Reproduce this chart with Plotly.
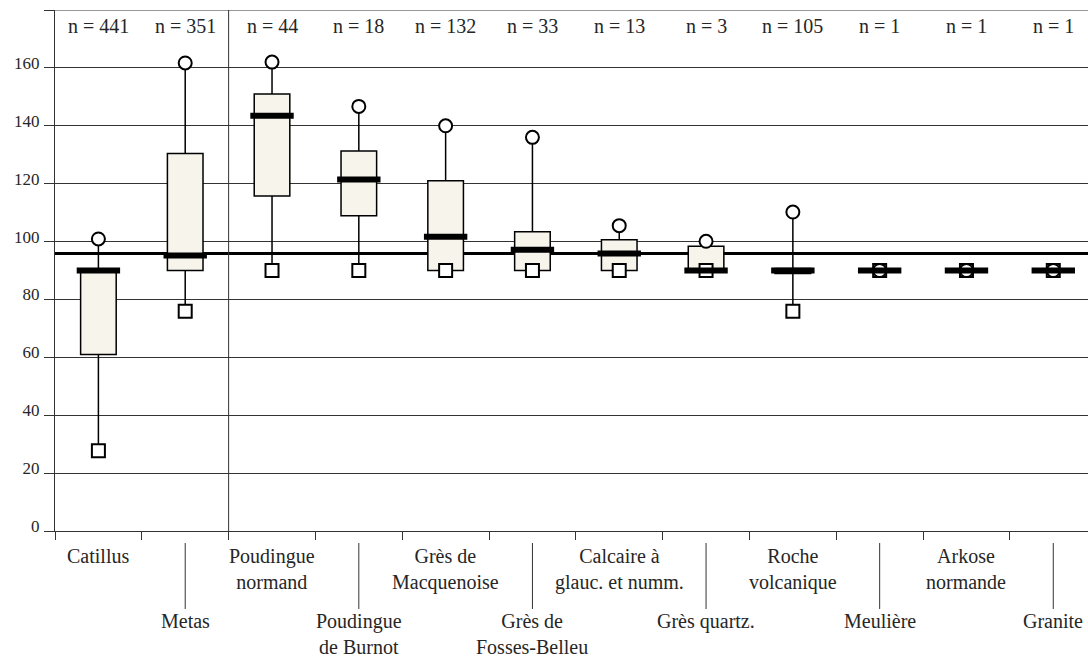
import plotly.graph_objects as go

# ---- data ----
categories = ["Catillus", "Metas", "Poudingue normand", "Poudingue de Burnot",
              "Grès de Macquenoise", "Grès de Fosses-Belleu",
              "Calcaire à glauc. et numm.", "Grès quartz.", "Roche volcanique",
              "Meulière", "Arkose normande", "Granite"]
label_text = ["Catillus", "Metas", "Poudingue<br>normand", "Poudingue<br>de Burnot",
              "Grès de<br>Macquenoise", "Grès de<br>Fosses-Belleu",
              "Calcaire à<br>glauc. et numm.", "Grès quartz.", "Roche<br>volcanique",
              "Meulière", "Arkose<br>normande", "Granite"]
n_counts = [441, 351, 44, 18, 132, 33, 13, 3, 105, 1, 1, 1]
mins    = [27.7, 75.9, 90, 90, 90, 90, 90, 90, 75.9, 90, 90, 90]
q1s     = [61.0, 90, 115.7, 108.9, 90, 90, 90, 90, 89.0, 90, 90, 90]
medians = [90, 95.2, 143.5, 121.4, 101.7, 97.2, 95.9, 90, 90, 90, 90, 90]
q3s     = [90, 130.4, 151.0, 131.3, 121.0, 103.4, 100.6, 98.4, 90.7, 90, 90, 90]
maxs    = [100.9, 161.7, 162.0, 146.7, 140.0, 136.0, 105.5, 100.1, 110.2, 90, 90, 90]
reference_value = 95.9
y_ticks = [0, 20, 40, 60, 80, 100, 120, 140, 160, 180]
y_ticktext = ["0", "20", "40", "60", "80", "100", "120", "140", "160", ""]

FONT = "Liberation Serif"
TXT = "#262626"
GRID = "#333333"

fig = go.Figure()

fig.add_trace(go.Box(
    x=categories, q1=q1s, median=medians, q3=q3s,
    lowerfence=mins, upperfence=maxs,
    fillcolor="#F7F4EC", line=dict(color="black", width=1.5),
    whiskerwidth=0, width=0.41, boxpoints=False, hoverinfo="skip",
    showlegend=False,
))

fig.add_trace(go.Scatter(
    x=categories, y=mins, mode="markers", showlegend=False, hoverinfo="skip",
    marker=dict(symbol="square", size=13, color="white",
                line=dict(color="black", width=2)),
))
fig.add_trace(go.Scatter(
    x=categories, y=maxs, mode="markers", showlegend=False, hoverinfo="skip",
    marker=dict(symbol="circle", size=13, color="white",
                line=dict(color="black", width=2)),
))
fig.add_trace(go.Scatter(
    x=categories, y=medians, mode="markers", showlegend=False, hoverinfo="skip",
    marker=dict(symbol="line-ew", size=31, color="black",
                line=dict(color="black", width=6)),
))

# reference line
fig.add_shape(type="line", xref="paper", x0=0, x1=1, yref="y",
              y0=reference_value, y1=reference_value,
              line=dict(color="black", width=3), layer="below")
# separator between the first two groups and the others
fig.add_shape(type="line", xref="x", x0=1.5, x1=1.5, yref="y", y0=0, y1=180,
              line=dict(color=GRID, width=1), layer="below")
# top border line at the 180 level (with its tick)
fig.add_shape(type="line", xref="paper", x0=-10 / 1033, x1=1, yref="y", y0=180, y1=180,
              line=dict(color=GRID, width=1), layer="below")

plot_top, plot_bottom = 10, 531
ph = plot_bottom - plot_top
def py(pix):
    return (plot_bottom - pix) / ph

# n labels
for i, c in enumerate(categories):
    fig.add_annotation(x=c, xref="x", y=py(26), yref="paper", yanchor="middle",
                       text=f"n = {n_counts[i]}", showarrow=False,
                       font=dict(family=FONT, size=20, color=TXT))

# category labels, alternating rows
for i, c in enumerate(categories):
    top = 543 if i % 2 == 0 else 608
    fig.add_annotation(x=c, xref="x", y=py(top), yref="paper", yanchor="top",
                       text=label_text[i], showarrow=False, align="center",
                       font=dict(family=FONT, size=20, color=TXT))
    if i % 2 == 1:
        fig.add_shape(type="line", xref="x", x0=i, x1=i, yref="paper",
                      y0=py(543), y1=py(609), line=dict(color=GRID, width=1))

fig.update_layout(
    width=1088, height=657,
    margin=dict(l=55, r=0, t=plot_top, b=657 - plot_bottom, autoexpand=False),
    plot_bgcolor="white", paper_bgcolor="white",
    font=dict(family=FONT, size=18, color=TXT),
    showlegend=False,
)
fig.update_xaxes(
    type="category", range=[-0.5, 11.4], showticklabels=False,
    ticks="outside", tickson="boundaries", ticklen=8, tickcolor=GRID,
    showline=True, linecolor=GRID, linewidth=1, showgrid=False, zeroline=False,
    automargin=False,
)
fig.update_yaxes(
    range=[0, 180], tickvals=y_ticks, ticktext=y_ticktext,
    ticks="outside", ticklen=10, tickcolor=GRID,
    showline=True, linecolor=GRID, linewidth=1,
    showgrid=True, gridcolor=GRID, gridwidth=1, zeroline=False,
    tickfont=dict(family=FONT, size=17, color=TXT), automargin=False,
    ticklabelshift=-5, ticklabelstandoff=1,
)

fig.write_html("out.html", config={"displayModeBar": False})
with open("out.html", encoding="utf-8") as f:
    html = f.read()
html = html.replace("<head>", "<head><style>html,body{margin:0;padding:0;}</style>", 1)
with open("out.html", "w", encoding="utf-8") as f:
    f.write(html)
